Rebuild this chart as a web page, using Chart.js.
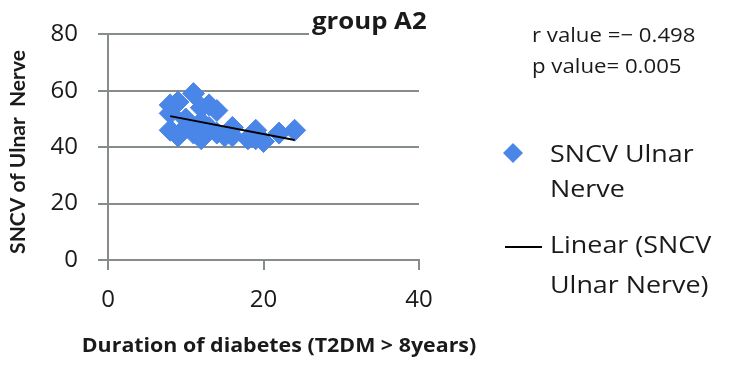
<!DOCTYPE html>
<html>
<head>
<meta charset="utf-8">
<script src="https://cdn.jsdelivr.net/npm/chart.js@4/dist/chart.umd.min.js"></script>
<style>
  html, body { margin: 0; padding: 0; background: #fff; }
  #wrap { width: 731px; height: 370px; position: relative; }
</style>
</head>
<body>
<div id="wrap"><canvas id="chart"></canvas></div>
<script>
// duration of diabetes (years) and SNCV of ulnar nerve
let durationYears = [8, 8, 8, 9, 9, 10, 10, 11, 11, 12, 12, 12, 13, 13, 14, 14, 15, 16, 16, 18, 19, 19, 20, 22, 24];
let sncvUlnar = [55, 46, 52, 56, 44, 50, 47, 59, 45, 54, 43, 49, 55, 47, 53, 45, 44, 47, 44, 43, 46, 43, 42, 45, 46];
let xTicks = [0, 20, 40];
let yTicks = [0, 20, 40, 60, 80];
let statsText = ["r value =\u2212 0.498", "p value= 0.005"];
let seriesName = "SNCV Ulnar Nerve";
let xTitle = "Duration of diabetes (T2DM > 8years)";
let yTitle = "SNCV of Ulnar  Nerve";

let blue = "#4a86e8";
let gridGray = "#858c89";
let textColor = "#1a1a1a";

// least squares trend line, from min to max x
function trendLine(xs, ys) {
  let n = xs.length;
  let mx = xs.reduce((a, b) => a + b, 0) / n;
  let my = ys.reduce((a, b) => a + b, 0) / n;
  let sxy = 0, sxx = 0;
  for (let i = 0; i < n; i++) {
    sxy += (xs[i] - mx) * (ys[i] - my);
    sxx += (xs[i] - mx) * (xs[i] - mx);
  }
  let slope = sxy / sxx;
  let b = my - slope * mx;
  let lo = Math.min(...xs), hi = Math.max(...xs);
  return [{ x: lo, y: slope * lo + b }, { x: hi, y: slope * hi + b }];
}

let points = durationYears.map((d, i) => ({ x: d, y: sncvUlnar[i] }));

// the original picture is a bit wide, so text gets a small horizontal stretch
function wideText(ctx, text, x, y, align, sx) {
  ctx.save();
  ctx.translate(x, y);
  ctx.scale(sx, 1);
  ctx.textAlign = align;
  ctx.fillText(text, 0, 0);
  ctx.restore();
}

let extras = {
  id: "extras",
  afterDraw(c) {
    let ctx = c.ctx;
    ctx.save();
    ctx.textBaseline = "alphabetic";

    // chart title with a white box behind it (covers the top gridline)
    ctx.fillStyle = "#fff";
    ctx.fillRect(309, 8, 122, 28);
    ctx.fillStyle = textColor;
    ctx.font = "bold 23px 'Open Sans'";
    wideText(ctx, "group A2", 312, 29, "left", 1.12);

    // axis titles
    ctx.font = "bold 20px 'Open Sans'";
    wideText(ctx, xTitle, 279, 352, "center", 1.07);
    ctx.save();
    ctx.translate(25, 152);
    ctx.rotate(-Math.PI / 2);
    ctx.font = "bold 21px Lato";
    ctx.textAlign = "center";
    ctx.fillText(yTitle, 0, 0);
    ctx.restore();

    // r and p values
    ctx.font = "20px 'Open Sans'";
    wideText(ctx, statsText[0], 532, 42, "left", 1.11);
    wideText(ctx, statsText[1], 532, 73, "left", 1.11);

    // legend
    ctx.fillStyle = blue;
    ctx.beginPath();
    ctx.moveTo(513, 143);
    ctx.lineTo(523, 153);
    ctx.lineTo(513, 163);
    ctx.lineTo(503, 153);
    ctx.closePath();
    ctx.fill();
    ctx.fillStyle = textColor;
    ctx.font = "24px 'Open Sans'";
    wideText(ctx, "SNCV Ulnar", 550, 162, "left", 1.12);
    wideText(ctx, "Nerve", 550, 197, "left", 1.12);

    ctx.strokeStyle = "#000";
    ctx.lineWidth = 2;
    ctx.beginPath();
    ctx.moveTo(505, 247);
    ctx.lineTo(542, 247);
    ctx.stroke();
    wideText(ctx, "Linear (SNCV", 550, 253, "left", 1.12);
    wideText(ctx, "Ulnar Nerve)", 550, 293, "left", 1.12);
    ctx.restore();
  },
};

let chart = new Chart(document.getElementById("chart").getContext("2d"), {
  type: "scatter",
  data: {
    datasets: [
      {
        type: "line",
        label: "Linear (" + seriesName + ")",
        data: trendLine(durationYears, sncvUlnar),
        borderColor: "#000",
        borderWidth: 2,
        pointRadius: 0,
        fill: false,
        order: 0,
      },
      {
        label: seriesName,
        data: points,
        pointStyle: "rectRot",
        pointRadius: 11,
        pointHoverRadius: 11,
        backgroundColor: blue,
        borderColor: blue,
        borderWidth: 1,
        order: 1,
      },
    ],
  },
  options: {
    responsive: true,
    maintainAspectRatio: false,
    animation: false,
    layout: { padding: { top: 28, right: 312, left: 0, bottom: 0 } },
    scales: {
      x: {
        type: "linear",
        min: 0,
        max: 40,
        afterBuildTicks: (s) => { s.ticks = xTicks.map((v) => ({ value: v })); },
        afterFit: (s) => { s.height = 110; },
        grid: { drawOnChartArea: false, drawTicks: true, tickLength: 10, color: gridGray, lineWidth: 2 },
        border: { display: true, color: gridGray, width: 2 },
        ticks: { color: textColor, font: { family: "'Open Sans'", size: 24 }, padding: 16, maxRotation: 0 },
      },
      y: {
        min: 0,
        max: 80,
        afterBuildTicks: (s) => { s.ticks = yTicks.map((v) => ({ value: v })); },
        afterFit: (s) => { s.width = 108; },
        grid: { color: gridGray, lineWidth: 2, tickLength: 10 },
        border: { display: true, color: gridGray, width: 2 },
        ticks: { color: textColor, font: { family: "'Open Sans'", size: 24 }, padding: 20 },
      },
    },
    plugins: {
      legend: { display: false },
      tooltip: { enabled: false },
    },
  },
  plugins: [extras],
});
</script>
</body>
</html>
